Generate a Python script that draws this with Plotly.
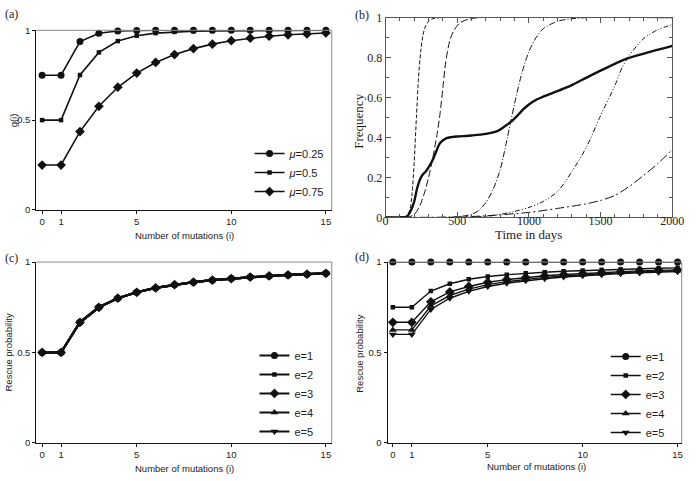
import plotly.graph_objects as go

# ---------------- data ----------------
mutations = list(range(16))
x_ticks = [0, 1, 5, 10, 15]

# panel (a) g(i)
g_mu025 = [0.75, 0.75, 0.937, 0.984, 0.996, 0.999, 1.0, 1.0, 1.0, 1.0, 1.0, 1.0, 1.0, 1.0, 1.0, 1.0]
g_mu05 = [0.5, 0.5, 0.751, 0.877, 0.940, 0.970, 0.984, 0.991, 0.995, 0.997, 0.998, 0.999, 0.999, 1.0, 1.0, 1.0]
g_mu075 = [0.25, 0.25, 0.436, 0.577, 0.683, 0.762, 0.821, 0.865, 0.898, 0.923, 0.942, 0.956, 0.967, 0.975, 0.980, 0.985]
labels_a = ["<i>μ</i>=0.25", "<i>μ</i>=0.5", "<i>μ</i>=0.75"]

# panel (b) frequency vs time
days1 = [0, 120, 150, 170, 185, 200, 215, 230, 245, 260, 280, 300, 330, 380, 2000]
freq1 = [0, 0, 0.01, 0.04, 0.12, 0.28, 0.5, 0.7, 0.83, 0.91, 0.96, 0.982, 0.995, 1.0, 1.0]
days2 = [0, 150, 200, 240, 270, 300, 330, 360, 380, 400, 420, 450, 480, 520, 580, 650, 2000]
freq2 = [0, 0, 0.015, 0.06, 0.12, 0.2, 0.3, 0.42, 0.52, 0.65, 0.78, 0.89, 0.94, 0.975, 0.993, 1.0, 1.0]
days3 = [0, 400, 500, 600, 650, 700, 750, 800, 850, 900, 950, 1000, 1050, 1100, 1200, 1300, 1400, 2000]
freq3 = [0, 0, 0.003, 0.015, 0.035, 0.075, 0.14, 0.24, 0.4, 0.57, 0.72, 0.83, 0.9, 0.945, 0.982, 0.995, 1.0, 1.0]
days4 = [0, 500, 700, 800, 900, 1000, 1100, 1200, 1300, 1400, 1500, 1600, 1650, 1700, 1800, 1900, 2000]
freq4 = [0, 0, 0.005, 0.015, 0.03, 0.05, 0.08, 0.13, 0.23, 0.35, 0.51, 0.66, 0.75, 0.81, 0.895, 0.94, 0.965]
days5 = [0, 500, 700, 1000, 1200, 1400, 1500, 1600, 1700, 1800, 1900, 2000]
freq5 = [0, 0.002, 0.008, 0.025, 0.045, 0.068, 0.085, 0.11, 0.155, 0.21, 0.27, 0.34]
days6 = [0, 100, 150, 180, 200, 220, 243, 260, 277, 300, 330, 350, 380, 425, 460, 500, 600, 700,
         783, 830, 873, 920, 964, 1000, 1054, 1100, 1167, 1281, 1416, 1507, 1665, 1801, 2000]
freq6 = [0, 0, 0.005, 0.04, 0.08, 0.146, 0.195, 0.215, 0.227, 0.25, 0.29, 0.324, 0.373, 0.397, 0.402,
         0.405, 0.41, 0.418, 0.433, 0.455, 0.478, 0.51, 0.543, 0.565, 0.59, 0.605, 0.624, 0.656, 0.705,
         0.737, 0.79, 0.82, 0.859]

# panel (c) rescue probability (all e overlap)
c_e1 = [0.5, 0.5, 0.667, 0.75, 0.8, 0.833, 0.857, 0.875, 0.889, 0.9, 0.909, 0.917, 0.923, 0.929, 0.933, 0.9375]
c_e2 = [0.5, 0.5, 0.667, 0.75, 0.8, 0.833, 0.857, 0.875, 0.889, 0.9, 0.909, 0.917, 0.923, 0.929, 0.933, 0.9375]
c_e3 = [0.5, 0.5, 0.667, 0.75, 0.8, 0.833, 0.857, 0.875, 0.889, 0.9, 0.909, 0.917, 0.923, 0.929, 0.933, 0.9375]
c_e4 = [0.5, 0.5, 0.667, 0.75, 0.8, 0.833, 0.857, 0.875, 0.889, 0.9, 0.909, 0.917, 0.923, 0.929, 0.933, 0.9375]
c_e5 = [0.5, 0.5, 0.667, 0.75, 0.8, 0.833, 0.857, 0.875, 0.889, 0.9, 0.909, 0.917, 0.923, 0.929, 0.933, 0.9375]

# panel (d) rescue probability
d_e1 = [1.0] * 16
d_e2 = [0.75, 0.75, 0.84, 0.88, 0.905, 0.92, 0.93, 0.938, 0.944, 0.949, 0.953, 0.957, 0.96, 0.963, 0.966, 0.968]
d_e3 = [0.667, 0.667, 0.78, 0.835, 0.865, 0.888, 0.903, 0.915, 0.924, 0.931, 0.937, 0.942, 0.947, 0.951, 0.954, 0.957]
d_e4 = [0.625, 0.625, 0.757, 0.815, 0.85, 0.875, 0.892, 0.905, 0.915, 0.923, 0.93, 0.936, 0.941, 0.945, 0.949, 0.952]
d_e5 = [0.6, 0.6, 0.738, 0.8, 0.838, 0.865, 0.883, 0.897, 0.908, 0.917, 0.924, 0.93, 0.936, 0.94, 0.944, 0.948]
labels_e = ["e=1", "e=2", "e=3", "e=4", "e=5"]

# ---------------- figure ----------------
W, H = 696, 481
SANS = "Liberation Sans, Arial, sans-serif"
SERIF = "Liberation Serif, Times New Roman, serif"
BLACK = "#111111"
GRAY = "#8a8a8a"

def px_x(p):
    return p / W

def px_y(p):
    return 1 - p / H

fig = go.Figure()

sym_a = ["circle", "square", "diamond"]
size_a = [7, 4.5, 7.5]
for ys, lab, s, sz in zip([g_mu025, g_mu05, g_mu075], labels_a, sym_a, size_a):
    fig.add_trace(go.Scatter(x=mutations, y=ys, name=lab, mode="lines+markers",
                             line=dict(color=BLACK, width=1.6),
                             marker=dict(symbol=s, size=sz, color=BLACK),
                             cliponaxis=False, xaxis="x", yaxis="y", legend="legend"))

b_series = [(days1, freq1, "4px,2px", 1.0), (days2, freq2, "7px,3px", 1.0),
            (days3, freq3, "6px,2px,1px,2px", 1.0), (days4, freq4, "5px,2px,1px,2px,1px,2px", 1.0),
            (days5, freq5, "9px,3px,2px,3px", 1.0), (days6, freq6, "solid", 2.4)]
for dx, fy, dash, w in b_series:
    fig.add_trace(go.Scatter(x=dx, y=fy, mode="lines", showlegend=False,
                             line=dict(color=BLACK, width=w, dash=dash, shape="spline", smoothing=0.8),
                             xaxis="x2", yaxis="y2"))

sym_e = ["circle", "square", "diamond", "triangle-up", "triangle-down"]
size_e = [7, 4.5, 7.5, 7, 7]
for ys, lab, s, sz in zip([c_e1, c_e2, c_e3, c_e4, c_e5], labels_e, sym_e, size_e):
    fig.add_trace(go.Scatter(x=mutations, y=ys, name=lab, mode="lines+markers",
                             line=dict(color=BLACK, width=2.2),
                             marker=dict(symbol=s, size=sz, color=BLACK),
                             cliponaxis=False, xaxis="x3", yaxis="y3", legend="legend2"))
for ys, lab, s, sz in zip([d_e1, d_e2, d_e3, d_e4, d_e5], labels_e, sym_e, size_e):
    fig.add_trace(go.Scatter(x=mutations, y=ys, name=lab, mode="lines+markers",
                             line=dict(color=BLACK, width=1.4),
                             marker=dict(symbol=s, size=sz, color=BLACK),
                             cliponaxis=False, xaxis="x4", yaxis="y4", legend="legend3"))

def mut_xaxis(domain, rng, anchor):
    return dict(domain=domain, range=rng, anchor=anchor, tickvals=x_ticks, ticks="outside",
                ticklen=3, tickcolor=BLACK, showline=True, linecolor=BLACK, linewidth=1,
                showgrid=False, zeroline=False, tickfont=dict(family=SANS, size=9.5, color="#222"))

def prob_yaxis(domain, anchor):
    return dict(domain=domain, range=[0, 1], anchor=anchor, tickvals=[0, 0.5, 1],
                ticktext=["0", "0.5", "1"], ticks="outside", ticklen=3, tickcolor=BLACK,
                showline=True, linecolor=BLACK, linewidth=1, showgrid=False, zeroline=False,
                tickfont=dict(family=SANS, size=9.5, color="#222"))

dom_a_x = [px_x(34), px_x(336)]
dom_a_y = [px_y(209), px_y(24)]
dom_b_x = [px_x(391), px_x(684)]
dom_b_y = [px_y(216.7), px_y(11)]
dom_c_x = [px_x(34), px_x(336)]
dom_c_y = [px_y(449), px_y(262.7)]
dom_d_x = [px_x(393), px_x(693.7)]
dom_d_y = [px_y(449), px_y(262.7)]

fig.update_layout(
    width=W, height=H, margin=dict(l=0, r=0, t=0, b=0),
    paper_bgcolor="white", plot_bgcolor="white",
    xaxis=mut_xaxis(dom_a_x, [-0.31, 15.31], "y"),
    yaxis=prob_yaxis(dom_a_y, "x"),
    xaxis3=mut_xaxis(dom_c_x, [-0.31, 15.31], "y3"),
    yaxis3=prob_yaxis(dom_c_y, "x3"),
    xaxis4=mut_xaxis(dom_d_x, [-0.28, 15.22], "y4"),
    yaxis4=prob_yaxis(dom_d_y, "x4"),
    xaxis2=dict(domain=dom_b_x, range=[0, 2000], anchor="y2", tickvals=[0, 500, 1000, 1500, 2000],
                ticks="inside", ticklen=5, tickcolor="#555", mirror="ticks", showline=True,
                linecolor="#555", linewidth=1, showgrid=False, zeroline=False, ticklabelstandoff=-8,
                minor=dict(dtick=100, ticks="inside", ticklen=3, tickcolor="#555", showgrid=False),
                tickfont=dict(family=SERIF, size=12, color="#222")),
    yaxis2=dict(domain=dom_b_y, range=[0, 1], anchor="x2", tickvals=[0, 0.2, 0.4, 0.6, 0.8, 1],
                ticktext=["0", "0.2", "0.4", "0.6", "0.8", "1"],
                ticks="inside", ticklen=5, tickcolor="#555", mirror="ticks", showline=True,
                linecolor="#555", linewidth=1, showgrid=False, zeroline=False,
                minor=dict(dtick=0.1, ticks="inside", ticklen=3, tickcolor="#555", showgrid=False),
                tickfont=dict(family=SERIF, size=12, color="#222")),
    legend=dict(x=px_x(252), y=px_y(136), xanchor="left", yanchor="top", bgcolor="rgba(0,0,0,0)",
                font=dict(family=SANS, size=11, color="#222"), tracegroupgap=0, itemwidth=30),
    legend2=dict(x=px_x(257), y=px_y(344), xanchor="left", yanchor="top", bgcolor="rgba(0,0,0,0)",
                 font=dict(family=SANS, size=11, color="#222"), tracegroupgap=0, itemwidth=30),
    legend3=dict(x=px_x(616), y=px_y(345), xanchor="left", yanchor="top", bgcolor="rgba(0,0,0,0)",
                 font=dict(family=SANS, size=11, color="#222"), tracegroupgap=0, itemwidth=30),
)

# light top/right frame edges for panels a, c, d
for xr, yr in [("x", "y"), ("x3", "y3"), ("x4", "y4")]:
    fig.add_shape(type="line", xref=f"{xr} domain", yref=f"{yr} domain", x0=0, x1=1, y0=1, y1=1,
                  line=dict(color=GRAY, width=1))
    fig.add_shape(type="line", xref=f"{xr} domain", yref=f"{yr} domain", x0=1, x1=1, y0=0, y1=1,
                  line=dict(color=GRAY, width=1))

def ann(text, x, y, font, size, angle=0, xanchor="center"):
    fig.add_annotation(text=text, x=px_x(x), y=px_y(y), xref="paper", yref="paper",
                       showarrow=False, textangle=angle, xanchor=xanchor, yanchor="middle",
                       font=dict(family=font, size=size, color="#222"))

# panel labels
ann("(a)", 0, 7, SERIF, 12, xanchor="left")
ann("(b)", 358, 8, SERIF, 12, xanchor="left")
ann("(c)", 0, 259, SERIF, 12, xanchor="left")
ann("(d)", 358, 258, SERIF, 12, xanchor="left")

# axis titles
ann("Number of mutations (i)", 185, 235, SANS, 9.5)
ann("g(i)", 11, 117, SANS, 9.5, angle=-90)
ann("Time in days", 537, 234, SERIF, 13)
ann("Frequency", 363, 118, SERIF, 13, angle=-90)
ann("Number of mutations (i)", 185, 475, SANS, 9.5)
ann("Rescue probability", 6, 356, SANS, 9.5, angle=-90)
ann("Number of mutations (i)", 545, 473, SANS, 9.5)
ann("Rescue probability", 364, 357, SANS, 9.5, angle=-90)

fig.write_html("out.html", config={"displayModeBar": False},
               post_script="document.body.style.margin='0';document.body.style.overflow='hidden';")
